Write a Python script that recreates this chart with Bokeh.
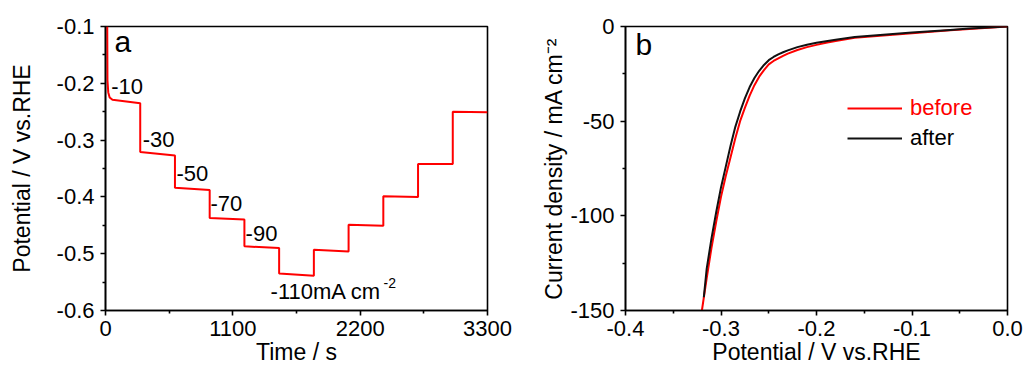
from bokeh.plotting import figure
from bokeh.layouts import row
from bokeh.models import FixedTicker, Range1d, Legend, LegendItem, Label
from bokeh.embed import file_html
from bokeh.resources import INLINE

FONT = "Liberation Sans"

# ---------------- panel a : chronopotentiometry ----------------
a_xticks = [0, 1100, 2200, 3300]
a_xtick_labels = ["0", "1100", "2200", "3300"]
a_xminor = [550, 1650, 2750]
a_yticks = [-0.6, -0.5, -0.4, -0.3, -0.2, -0.1]
a_ytick_labels = ["-0.6", "-0.5", "-0.4", "-0.3", "-0.2", "-0.1"]
a_yminor = [-0.55, -0.45, -0.35, -0.25, -0.15]

initial_t = [15, 17, 24, 36, 60]
initial_E = [-0.100, -0.195, -0.216, -0.225, -0.229]
step_start_time = [0, 300, 600, 900, 1200, 1500, 1800, 2100, 2400, 2700, 3000]
step_length = 300
step_E_start = [-0.229, -0.321, -0.384, -0.437, -0.487, -0.535, -0.493, -0.449, -0.399, -0.342, -0.250]
step_E_end = [-0.235, -0.327, -0.388, -0.440, -0.490, -0.539, -0.496, -0.451, -0.400, -0.342, -0.251]

step_labels = ["-10", "-30", "-50", "-70", "-90", "-110mA cm"]
step_label_t = [49, 322, 613, 907, 1210, 1426]
step_label_E = [-0.2174, -0.3113, -0.3711, -0.424, -0.4768, -0.5794]

# ---------------- panel b : polarization curves ----------------
b_xticks = [-0.4, -0.3, -0.2, -0.1, 0.0]
b_xtick_labels = ["-0.4", "-0.3", "-0.2", "-0.1", "0.0"]
b_xminor = [-0.35, -0.25, -0.15, -0.05]
b_yticks = [-150, -100, -50, 0]
b_ytick_labels = ["-150", "-100", "-50", "0"]
b_yminor = [-125, -75, -25]

before_E = [-0.320, -0.315, -0.310, -0.305, -0.300, -0.295, -0.290, -0.285, -0.280,
            -0.275, -0.270, -0.265, -0.260, -0.255, -0.250, -0.245, -0.240, -0.235,
            -0.230, -0.220, -0.210, -0.200, -0.190, -0.180, -0.160, -0.140, -0.120,
            -0.100, -0.080, -0.060, -0.040, -0.020, 0.000]
before_j = [-150, -133, -117, -103, -90, -79, -69, -59, -50,
            -43, -36.5, -31, -26.5, -23, -20.0, -18.2, -16.8, -15.5,
            -14.3, -12.4, -10.9, -9.7, -8.6, -7.7, -6.0, -5.2, -4.4,
            -3.6, -2.8, -2.0, -1.3, -0.6, 0]
after_E = [-0.318, -0.315, -0.310, -0.305, -0.300, -0.295, -0.290, -0.285, -0.280,
           -0.275, -0.270, -0.265, -0.260, -0.255, -0.250, -0.245, -0.240, -0.235,
           -0.230, -0.220, -0.210, -0.200, -0.190, -0.180, -0.160, -0.140, -0.120,
           -0.100, -0.080, -0.060, -0.040, -0.020, 0.000]
after_j = [-143, -128, -112, -98, -85, -74, -63, -53, -45,
           -38, -32, -27.2, -23.4, -20.3, -17.8, -16.1, -14.7, -13.6,
           -12.6, -10.9, -9.6, -8.6, -7.8, -7.0, -5.6, -4.8, -4.0,
           -3.2, -2.5, -1.8, -1.1, -0.5, 0]

# build step trace of panel a from the step tables
t_a = list(initial_t)
E_a = list(initial_E)
t_a.append(step_start_time[0] + step_length)
E_a.append(step_E_end[0])
for i in range(1, len(step_start_time)):
    t_a += [step_start_time[i], step_start_time[i] + step_length]
    E_a += [step_E_start[i], step_E_end[i]]

BASE_SHIFT = 0.32  # empirical lift (in em) so labels sit on their baseline


def style(p, xt, xl, xm, yt, yl, ym):
    p.grid.visible = False
    p.outline_line_color = "black"
    p.outline_line_width = 1.6
    p.outline_line_alpha = 1.0
    p.background_fill_color = "white"
    p.border_fill_color = "white"
    p.xaxis.ticker = FixedTicker(ticks=xt, minor_ticks=xm)
    p.yaxis.ticker = FixedTicker(ticks=yt, minor_ticks=ym)
    p.xaxis.major_label_overrides = dict(zip(xt, xl))
    p.yaxis.major_label_overrides = dict(zip(yt, yl))
    for ax in (p.xaxis[0], p.yaxis[0]):
        ax.axis_line_width = 1.6
        ax.axis_line_color = "black"
        ax.major_tick_in = 0
        ax.major_tick_out = 5
        ax.minor_tick_in = 0
        ax.minor_tick_out = 3
        ax.major_tick_line_width = 1.6
        ax.minor_tick_line_width = 1.6
        ax.major_tick_line_color = "black"
        ax.minor_tick_line_color = "black"
        ax.major_label_text_font = FONT
        ax.major_label_text_font_size = "22px"
        ax.major_label_text_color = "black"
        ax.axis_label_text_font = FONT
        ax.axis_label_text_font_size = "23px"
        ax.axis_label_text_font_style = "normal"
        ax.axis_label_text_color = "black"
    p.xaxis.major_label_standoff = 5
    p.xaxis.axis_label_standoff = 0


def label(p, x, y, text, size, xoff=0, yoff=0):
    p.add_layout(Label(x=x, y=y, x_offset=xoff, y_offset=yoff + BASE_SHIFT * size,
                       text=text, text_font=FONT, text_font_size=f"{size}px",
                       text_color="black", text_baseline="alphabetic", text_align="left"))


# ---------------- figure a ----------------
p1 = figure(width=520, height=367, x_range=Range1d(0, 3300), y_range=Range1d(-0.6, -0.1),
            output_backend="svg", toolbar_location=None,
            min_border_left=105, min_border_right=33, min_border_top=26, min_border_bottom=57,
            x_axis_label="Time / s", y_axis_label="Potential / V vs.RHE")
style(p1, a_xticks, a_xtick_labels, a_xminor, a_yticks, a_ytick_labels, a_yminor)
p1.yaxis.major_label_standoff = 6
p1.yaxis.axis_label_standoff = 19
p1.line(t_a, E_a, line_color="#ff0000", line_width=2)

for txt, tx, ty in zip(step_labels, step_label_t, step_label_E):
    label(p1, tx, ty, txt, 22)
label(p1, step_label_t[-1], step_label_E[-1], "-2", 14, xoff=113, yoff=11)
label(p1, 78, -0.1435, "a", 30)

# ---------------- figure b ----------------
p2 = figure(width=505, height=367, x_range=Range1d(-0.4, 0.0), y_range=Range1d(-150, 0),
            output_backend="svg", toolbar_location=None,
            min_border_left=105, min_border_right=18, min_border_top=26, min_border_bottom=57,
            x_axis_label="Potential / V vs.RHE", y_axis_label="Current density / mA cm\u207b\u00b2")
style(p2, b_xticks, b_xtick_labels, b_xminor, b_yticks, b_ytick_labels, b_yminor)
p2.yaxis.major_label_standoff = 6
p2.yaxis.axis_label_standoff = 0
r_before = p2.line(before_E, before_j, line_color="#ff0000", line_width=2)
r_after = p2.line(after_E, after_j, line_color="#111111", line_width=2)
label(p2, -0.3895, -14.4, "b", 30)

for item_label, rend, col, loc in (("before", r_before, "#ff0000", (222, 189)),
                                   ("after", r_after, "black", (222, 159))):
    leg = Legend(items=[LegendItem(label=item_label, renderers=[rend])], location=loc,
                 label_text_color=col, label_text_font=FONT, label_text_font_size="22px",
                 padding=0, margin=0, spacing=0, glyph_width=55, glyph_height=22,
                 label_height=22, label_standoff=8, border_line_alpha=0,
                 background_fill_alpha=0)
    p2.add_layout(leg)

layout = row(p1, p2)
open("out.html", "w").write(file_html(layout, INLINE))
